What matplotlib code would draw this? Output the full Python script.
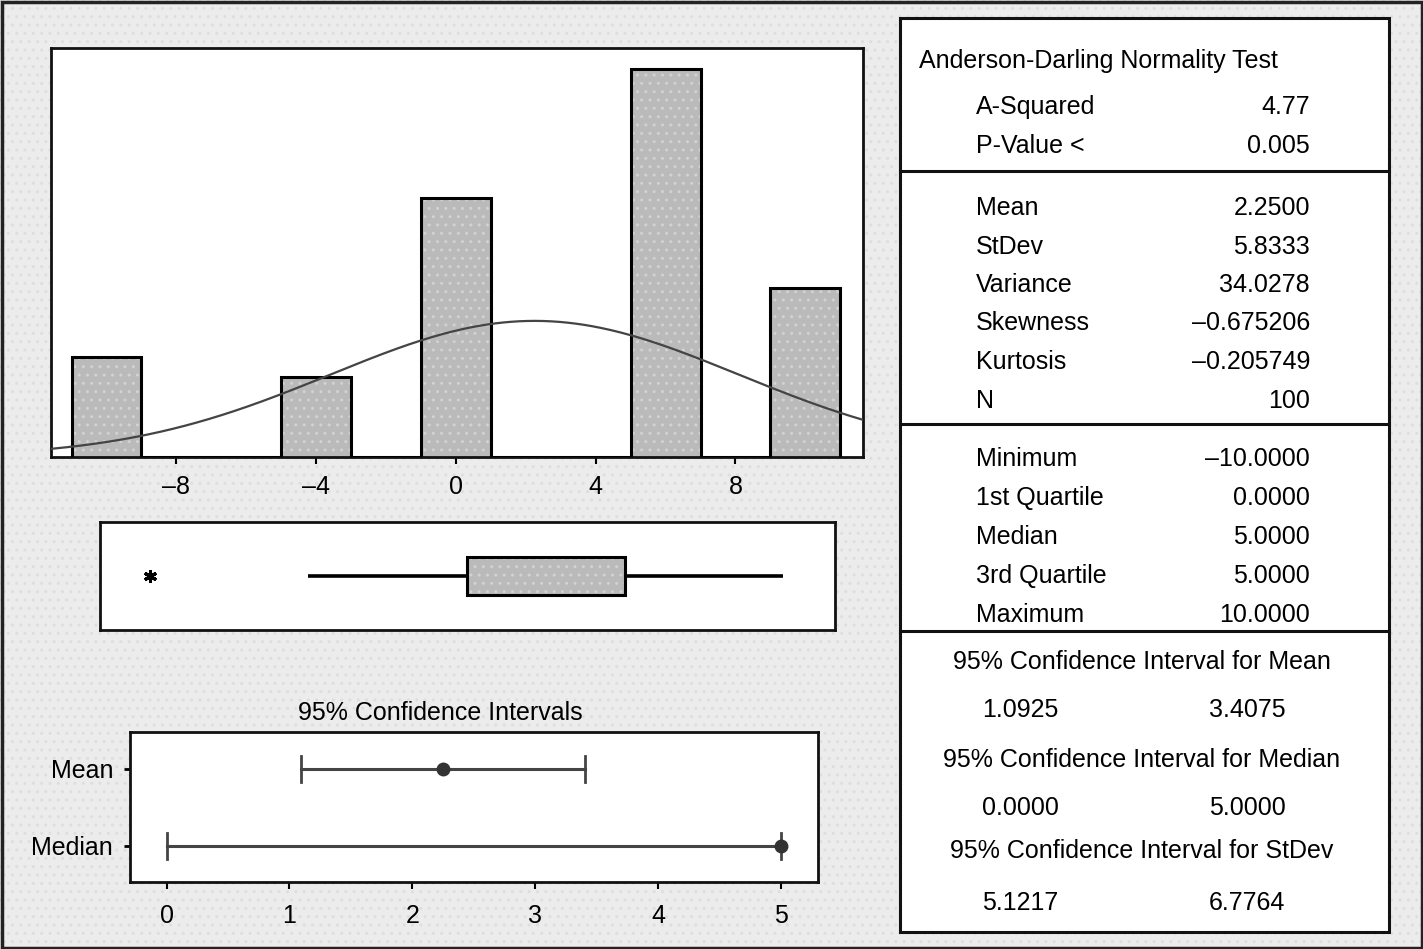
import numpy as np
import matplotlib
matplotlib.use("Agg")
import matplotlib.pyplot as plt
from matplotlib.patches import Rectangle

plt.rcParams['font.family'] = ['Liberation Sans', 'DejaVu Sans']
plt.rcParams['hatch.linewidth'] = 1.0

# ---- data ----
values = [-10, -5, 0, 5, 10]
counts = [10, 8, 26, 39, 17]
bin_edges = [-11, -9, -7, -5, -3, -1, 1, 3, 5, 7, 9, 11]
hist_ticks = [-8, -4, 0, 4, 8]
hist_ticklabels = ['\u20138', '\u20134', '0', '4', '8']

ci_labels = ['Mean', 'Median']
ci_center = [2.25, 5.0]
ci_low = [1.0925, 0.0]
ci_high = [3.4075, 5.0]
ci_ticks = [0, 1, 2, 3, 4, 5]

ad_rows = [('A-Squared', '4.77'), ('P-Value <', '0.005')]
desc_rows = [('Mean', '2.2500'), ('StDev', '5.8333'), ('Variance', '34.0278'),
             ('Skewness', '\u20130.675206'), ('Kurtosis', '\u20130.205749'), ('N', '100')]
quart_rows = [('Minimum', '\u201310.0000'), ('1st Quartile', '0.0000'), ('Median', '5.0000'),
              ('3rd Quartile', '5.0000'), ('Maximum', '10.0000')]
ci_tables = [('95% Confidence Interval for Mean', '1.0925', '3.4075'),
             ('95% Confidence Interval for Median', '0.0000', '5.0000'),
             ('95% Confidence Interval for StDev', '5.1217', '6.7764')]

data = np.repeat(values, counts)
mean = data.mean()
sd = data.std(ddof=1)

W, H = 1423, 949
fig = plt.figure(figsize=(W / 100, H / 100), dpi=100)
fig.patch.set_facecolor('#ececec')

FS = 18
BAR_FC = '#bababa'
DOT = '#d2d2d2'

# background axes (pixel coordinates)
bg = fig.add_axes([0, 0, 1, 1], zorder=-5)
bg.set_xlim(0, W)
bg.set_ylim(H, 0)
bg.axis('off')
bg.add_patch(Rectangle((0, 0), W, H, facecolor='#ececec', edgecolor='#dedede',
                       hatch='..', lw=0, zorder=0))
bg.add_patch(Rectangle((1.5, 1.5), W - 3, H - 3, fill=False, edgecolor='#222222', lw=2.5, zorder=5))

def fpos(l, t, r, b):
    return [l / W, 1 - b / H, (r - l) / W, (b - t) / H]

def frame(ax, lw=2.0):
    for s in ax.spines.values():
        s.set_linewidth(lw)
        s.set_color('#111111')

# ---- histogram ----
axh = fig.add_axes(fpos(50.6, 48, 863, 457))
axh.hist(data, bins=bin_edges, color=BAR_FC, edgecolor=DOT, hatch='..', lw=0, zorder=2)
axh.hist(data, bins=bin_edges, histtype='step', edgecolor='black', lw=2.2, zorder=3)
xs = np.linspace(-11.6, 11.65, 400)
binw = bin_edges[1] - bin_edges[0]
pdf = len(data) * binw / (sd * np.sqrt(2 * np.pi)) * np.exp(-0.5 * ((xs - mean) / sd) ** 2)
axh.plot(xs, pdf, color='#444444', lw=1.6, zorder=4)
axh.set_xlim(-11.6, 11.65)
axh.set_ylim(0, 41.1)
axh.set_yticks([])
axh.set_xticks(hist_ticks)
axh.set_xticklabels(hist_ticklabels, fontsize=FS)
axh.tick_params(axis='x', length=5, width=1.5, direction='out', pad=8)
frame(axh)

# ---- boxplot ----
axb = fig.add_axes(fpos(99.7, 522, 835, 630))
bw = 0.36
axb.boxplot(data, vert=False, widths=bw, patch_artist=True,
            boxprops=dict(facecolor=BAR_FC, edgecolor=DOT, lw=0, hatch='..'),
            whiskerprops=dict(color='black', lw=2.6, solid_capstyle='butt'),
            capprops=dict(lw=0),
            medianprops=dict(color='black', lw=0),
            flierprops=dict(marker=(6, 2, 0), markersize=9, markeredgecolor='black',
                            markeredgewidth=2))
q1, q3 = np.percentile(data, [25, 75])
axb.add_patch(Rectangle((q1, 1 - bw / 2), q3 - q1, bw, fill=False,
                        edgecolor='black', lw=2.2, zorder=5))
axb.set_xlim(-11.6, 11.65)
axb.set_ylim(0.5, 1.5)
axb.set_xticks([])
axb.set_yticks([])
frame(axb)

# ---- CI plot ----
axc = fig.add_axes(fpos(129.8, 732, 817.6, 882))
ypos = [1, 0]
for y, c, lo, hi in zip(ypos, ci_center, ci_low, ci_high):
    axc.plot([lo, hi], [y, y], color='#444444', lw=2.2, zorder=2)
    axc.plot([lo, lo], [y - 0.17, y + 0.17], color='#444444', lw=2.0, zorder=2)
    axc.plot([hi, hi], [y - 0.17, y + 0.17], color='#444444', lw=2.0, zorder=2)
    axc.plot([c], [y], marker='o', markersize=9, color='#333333', zorder=3)
axc.set_xlim(-0.3, 5.3)
axc.set_ylim(-0.47, 1.48)
axc.set_xticks(ci_ticks)
axc.set_xticklabels([str(t) for t in ci_ticks], fontsize=FS)
axc.set_yticks(ypos)
axc.set_yticklabels(ci_labels, fontsize=FS)
axc.tick_params(axis='x', length=5, width=1.5, pad=11)
axc.tick_params(axis='y', length=4, width=2, pad=8)
frame(axc)
fig.text(440 / W, 1 - 713 / H, '95% Confidence Intervals', fontsize=FS,
         ha='center', va='center')

# ---- table ----
tx0, ty0, tx1, ty1 = 900, 18, 1389, 932
bg.add_patch(Rectangle((tx0, ty0), tx1 - tx0, ty1 - ty0, facecolor='white',
                       edgecolor='#111111', lw=2.2, zorder=3))
for ys in [171, 424, 631]:
    bg.plot([tx0, tx1], [ys, ys], color='#111111', lw=2.2, zorder=4)

dy = 2
lx, rx = 976, 1310
bg.text(919, 59 + dy, 'Anderson-Darling Normality Test', fontsize=FS, va='center', ha='left', zorder=6)
for (lab, val), y in zip(ad_rows, [105, 144]):
    bg.text(lx, y + dy, lab, fontsize=FS, va='center', ha='left', zorder=6)
    bg.text(rx, y + dy, val, fontsize=FS, va='center', ha='right', zorder=6)
for i, (lab, val) in enumerate(desc_rows):
    y = 206 + i * 38.5
    bg.text(lx, y + dy, lab, fontsize=FS, va='center', ha='left', zorder=6)
    bg.text(rx, y + dy, val, fontsize=FS, va='center', ha='right', zorder=6)
for i, (lab, val) in enumerate(quart_rows):
    y = 457 + i * 39
    bg.text(lx, y + dy, lab, fontsize=FS, va='center', ha='left', zorder=6)
    bg.text(rx, y + dy, val, fontsize=FS, va='center', ha='right', zorder=6)
for (title, lo, hi), yt, yv in zip(ci_tables, [660, 758, 849], [708, 806, 901]):
    bg.text(1142, yt + dy, title, fontsize=FS, va='center', ha='center', zorder=6)
    bg.text(1020, yv + dy, lo, fontsize=FS, va='center', ha='center', zorder=6)
    bg.text(1247, yv + dy, hi, fontsize=FS, va='center', ha='center', zorder=6)

fig.savefig('out.png', dpi=100, facecolor=fig.get_facecolor())
